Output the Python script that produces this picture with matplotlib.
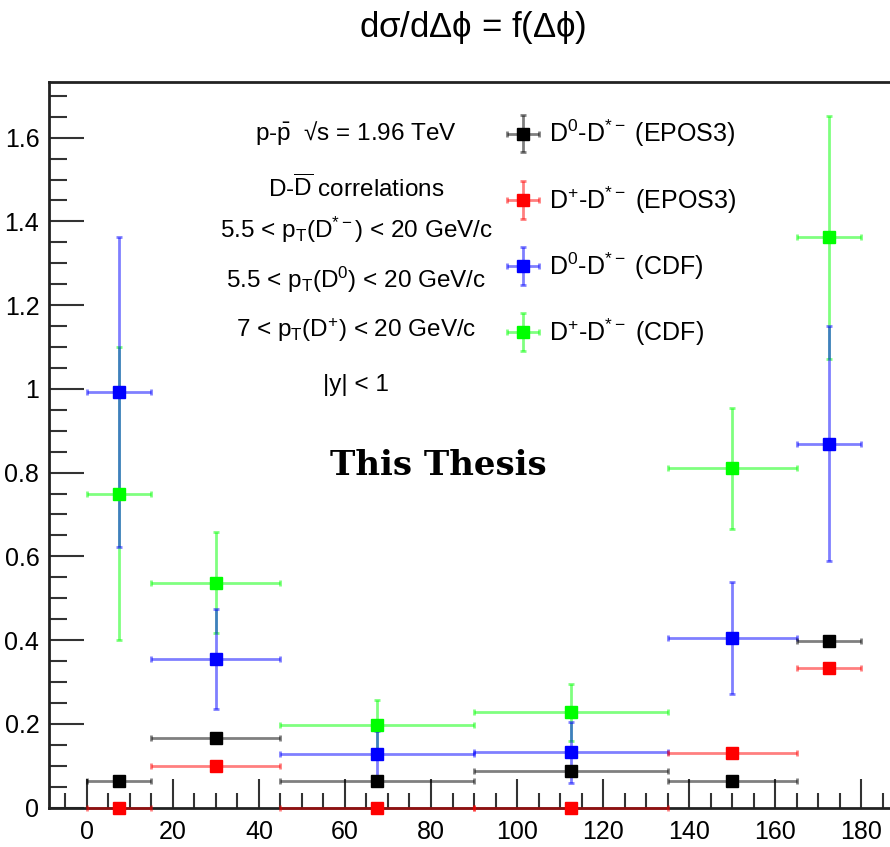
import matplotlib
matplotlib.use("Agg")
import matplotlib.pyplot as plt
from matplotlib.legend_handler import HandlerErrorbar
import numpy as np

plt.rcParams['font.family'] = ['Liberation Sans', 'DejaVu Sans']
plt.rcParams['mathtext.fontset'] = 'custom'
plt.rcParams['mathtext.rm'] = 'Liberation Sans'
plt.rcParams['mathtext.it'] = 'Liberation Sans'
plt.rcParams['mathtext.bf'] = 'Liberation Sans'

# bins in delta phi (degrees)
bin_edges = [0, 15, 45, 90, 135, 165, 180]

# D0-D*- (EPOS3)
d0_epos = [0.063, 0.165, 0.063, 0.087, 0.063, 0.397]
d0_epos_err = [0, 0, 0, 0, 0, 0]
# D+-D*- (EPOS3)
dp_epos = [0.0, 0.098, 0.0, 0.0, 0.131, 0.333]
dp_epos_err = [0, 0, 0, 0, 0, 0]
# D0-D*- (CDF)
d0_cdf = [0.992, 0.355, 0.128, 0.132, 0.405, 0.869]
d0_cdf_err = [0.37, 0.12, 0.055, 0.073, 0.134, 0.28]
# D+-D*- (CDF)
dp_cdf = [0.749, 0.537, 0.197, 0.227, 0.81, 1.362]
dp_cdf_err = [0.35, 0.12, 0.06, 0.068, 0.144, 0.29]

edges = np.array(bin_edges, dtype=float)
centers = (edges[:-1] + edges[1:]) / 2
half_w = (edges[1:] - edges[:-1]) / 2

fig = plt.figure(figsize=(8.9, 8.47), dpi=100)
ax = fig.add_axes([49 / 890, 39.5 / 847, 1 - 49 / 890, 725.5 / 847])

def draw(y, yerr, color, label):
    h = ax.errorbar(centers, y, xerr=half_w, yerr=yerr, fmt='s', color=color,
                    ms=8.5, mfc=color, mec=color, ecolor=color, elinewidth=2,
                    capsize=2, capthick=2, label=label, zorder=3, clip_on=False)
    for part in h.lines[1] + h.lines[2]:
        part.set_alpha(0.5)
        part.set_clip_on(False)
    return h

h_green = draw(dp_cdf, dp_cdf_err, '#00ff00', r'D$^{+}$-D$^{*-}$ (CDF)')
h_blue = draw(d0_cdf, d0_cdf_err, '#0000ff', r'D$^{0}$-D$^{*-}$ (CDF)')
h_black = draw(d0_epos, d0_epos_err, '#000000', r'D$^{0}$-D$^{*-}$ (EPOS3)')
h_red = draw(dp_epos, dp_epos_err, '#ff0000', r'D$^{+}$-D$^{*-}$ (EPOS3)')

ax.set_xlim(-8.8, 186.7)
ax.set_ylim(0, 1.733)
ax.set_xticks(np.arange(0, 181, 20))
ax.set_xticks(np.arange(-5, 186, 5), minor=True)
ax.set_yticks([0, 0.2, 0.4, 0.6, 0.8, 1.0, 1.2, 1.4, 1.6])
ax.set_yticklabels(['0', '0.2', '0.4', '0.6', '0.8', '1', '1.2', '1.4', '1.6'])
ax.set_yticks(np.arange(0, 1.72, 0.05), minor=True)
ax.tick_params(which='both', direction='in', labelsize=18, width=1.5, color='#333333')
ax.tick_params(which='major', length=21)
ax.tick_params(which='minor', length=11)
ax.tick_params(axis='y', which='major', length=25, pad=7)
ax.tick_params(axis='y', which='minor', length=13)
ax.tick_params(axis='x', pad=9)
ax.spines['right'].set_visible(False)
for s in ['left', 'bottom', 'top']:
    ax.spines[s].set_linewidth(2)
    ax.spines[s].set_color('#222222')

fig.text(473 / 890, 1 - 27 / 847, r'd$\sigma$/d$\Delta\phi$ = f($\Delta\phi$)',
         ha='center', va='center', fontsize=25)

info = [
    (133, 'p-$\\bar{\\mathrm{p}}$  \u221as = 1.96 TeV'),
    (188, r'D-$\overline{\mathrm{D}}$ correlations'),
    (230, r'5.5 < p$_{\mathrm{T}}$(D$^{*-}$) < 20 GeV/c'),
    (280, r'5.5 < p$_{\mathrm{T}}$(D$^{0}$) < 20 GeV/c'),
    (330, r'7 < p$_{\mathrm{T}}$(D$^{+}$) < 20 GeV/c'),
    (385, r'|y| < 1'),
]
for ypix, txt in info:
    fig.text(356 / 890, 1 - ypix / 847, txt, ha='center', va='center', fontsize=17.5)

fig.text(438 / 890, 1 - 465 / 847, 'This Thesis', ha='center', va='center',
         fontsize=24.5, family='DejaVu Serif', fontweight='bold')

leg = ax.legend([h_black, h_red, h_blue, h_green],
                [h_black.get_label(), h_red.get_label(), h_blue.get_label(), h_green.get_label()],
                handler_map={type(h_black): HandlerErrorbar(xerr_size=0.65, yerr_size=0.75)},
                loc='upper left', bbox_to_anchor=(504 / 890, 1 - 118 / 847),
                bbox_transform=fig.transFigure, frameon=False, fontsize=18,
                handlelength=1.5, handletextpad=0.3, labelspacing=1.39,
                borderpad=0, borderaxespad=0)

fig.savefig('out.png', dpi=100)
